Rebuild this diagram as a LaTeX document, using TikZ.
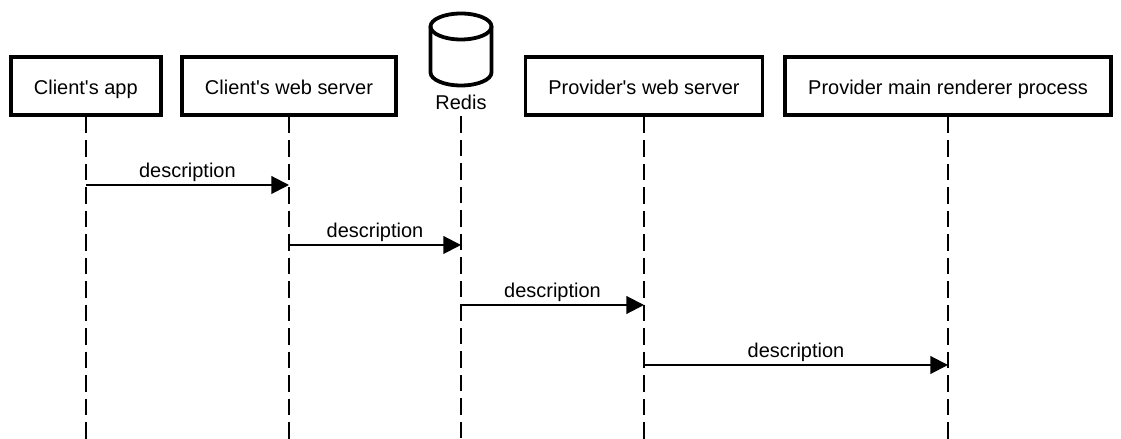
\documentclass[tikz,border=0pt]{standalone}
\usepackage{fontspec}
\setmainfont{Liberation Sans}[Ligatures=TeXOff]
\usetikzlibrary{arrows.meta,positioning}
\tikzset{
    actorbox/.style={draw, line width=2.7pt, minimum height=1.44cm, inner sep=0pt, text height=0.525cm, text depth=0.1cm, font=\fontsize{14.2}{17}\selectfont},
    storeline/.style={line width=2.7pt, line join=round},
    lifeline/.style={line width=1.45pt, dash pattern=on 0.4125cm off 0.175cm},
    msgarrow/.style={line width=1.45pt, -{Triangle[length=0.44cm,width=0.44cm]}},
    msglabel/.style={midway, above, inner sep=0pt, yshift=1.7pt, font=\fontsize{14.2}{17}\selectfont}
}

\begin{document}
\begin{tikzpicture}
    \useasboundingbox (0,0) rectangle (28.025,10.975);

    % Actors
    \node[actorbox, minimum width=3.75cm] (app) at (2.145, 8.825) {Client's app};
    \node[actorbox, minimum width=5.35cm] (clientweb) at (7.225, 8.825) {Client's web server};
    \node[actorbox, minimum width=5.925cm] (providerweb) at (16.1, 8.825) {Provider's web server};
    \node[actorbox, minimum width=8.15cm] (renderer) at (23.7, 8.825) {Provider main renderer process};

    % Redis store
    \draw[storeline] (11.525,10.3125) ellipse[x radius=0.7625, y radius=0.325];
    \draw[storeline] (10.7625,10.3125) -- (10.7625,9.1625)
        arc[start angle=180, end angle=360, x radius=0.7625, y radius=0.325] -- (12.2875,10.3125);
    \node[inner sep=0pt, minimum height=0.75cm, text height=0.525cm, text depth=0.1cm, font=\fontsize{14.2}{17}\selectfont] (redis) at (11.525, 8.45) {Redis};

    % Lifelines
    \draw[lifeline] (app.south) -- (app |- 0,0);
    \draw[lifeline] (clientweb.south) -- (clientweb |- 0,0);
    \draw[lifeline] (redis.south) -- (redis |- 0,0);
    \draw[lifeline] (providerweb.south) -- (providerweb |- 0,0);
    \draw[lifeline] (renderer.south) -- (renderer |- 0,0);

    % Messages
    \draw[msgarrow] (app |- 0,6.35) -- (clientweb |- 0,6.35) node[msglabel] {description};
    \draw[msgarrow] (clientweb |- 0,4.85) -- (redis |- 0,4.85) node[msglabel] {description};
    \draw[msgarrow] (redis |- 0,3.35) -- (providerweb |- 0,3.35) node[msglabel] {description};
    \draw[msgarrow] (providerweb |- 0,1.85) -- (renderer |- 0,1.85) node[msglabel] {description};
\end{tikzpicture}
\end{document}
